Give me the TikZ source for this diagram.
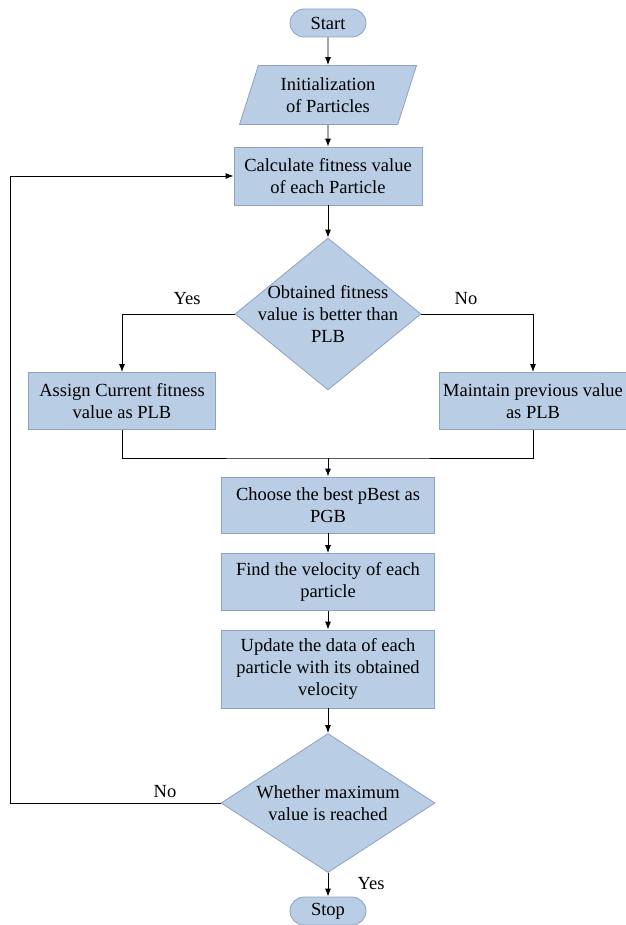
\documentclass[tikz,border=0pt]{standalone}
\usepackage{fontspec}
\setmainfont{Liberation Serif}
\usetikzlibrary{arrows.meta,shapes.geometric,shapes.misc}
\definecolor{boxfill}{RGB}{185,205,229}
\definecolor{boxline}{RGB}{140,162,196}

\begin{document}
\begin{tikzpicture}[x=1pt, y=-1pt, line width=0.9pt, >={Latex[length=8pt,width=6pt]},
    txt/.style={font=\rmfamily\fontsize{18.5}{22}\selectfont, align=center},
    term/.style={rounded rectangle, draw=boxline, fill=boxfill, line width=0.8pt, minimum width=76, minimum height=28, inner sep=0, txt},
    io/.style={trapezium, trapezium left angle=70, trapezium right angle=110, trapezium stretches=true, draw=boxline, fill=boxfill, line width=0.8pt, minimum width=177, minimum height=59, inner sep=0, txt},
    proc/.style={rectangle, draw=boxline, fill=boxfill, line width=0.8pt, minimum height=57, inner sep=0, txt},
    dec/.style={diamond, draw=boxline, fill=boxfill, line width=0.8pt, inner sep=0}]
    \useasboundingbox (0,0) rectangle (625,925);
    \def\cx{328}
    % Top
    \node[term] (start) at (\cx,23) {Start};
    \node[io] (init) at (\cx,95) {Initialization\\of Particles};
    \node[proc, minimum width=188, minimum height=58] (calc) at (\cx,176) {Calculate fitness value\\of each Particle};
    % First check
    \node[dec, minimum width=186, minimum height=152] (check) at (\cx,314) {};
    \node[txt] (checktxt) at (\cx,314) {Obtained fitness\\value is better than\\PLB};
    \node[proc, minimum width=187] (assign) at (122,401) {Assign Current fitness\\value as PLB};
    \node[proc, minimum width=187] (keep) at (533,401) {Maintain previous value\\as PLB};
    % Middle
    \node[proc, minimum width=213, minimum height=56] (choose) at (\cx,505) {Choose the best pBest as\\PGB};
    \node[proc, minimum width=213, minimum height=57] (velo) at (\cx,582) {Find the velocity of each\\particle};
    \node[proc, minimum width=213, minimum height=78] (update) at (\cx,669) {Update the data of each\\particle with its obtained\\velocity};
    % Second check
    \node[dec, minimum width=214, minimum height=139] (stopchk) at (\cx,803) {};
    \node[txt] (stoptxt) at (\cx,803) {Whether maximum\\value is reached};
    \node[term] (stop) at (\cx,911) {Stop};
    \coordinate (merge) at (\cx,458);
    \coordinate (back) at (10,803);

    % Arrows
    \draw[->] (start) -- (init);
    \draw[->] (init) -- (calc);
    \draw[->] (calc) -- (check);
    \draw[->] (check.west) -| (assign.north);
    \draw[->] (check.east) -| (keep.north);
    \draw (assign.south) |- (merge) -| (keep.south);
    \draw[->] (merge) -- (choose);
    \draw[->] (choose) -- (velo);
    \draw[->] (velo) -- (update);
    \draw[->] (update) -- (stopchk);
    \draw[->] (stopchk) -- (stop);
    \draw[->] (stopchk.west) -- (back) |- (calc.west);
    % Labels
    \node[txt] (yes1) at (187,299) {Yes};
    \node[txt] (no1) at (466,299) {No};
    \node[txt] (no2) at (165,792) {No};
    \node[txt] (yes2) at (371,884) {Yes};
\end{tikzpicture}
\end{document}
